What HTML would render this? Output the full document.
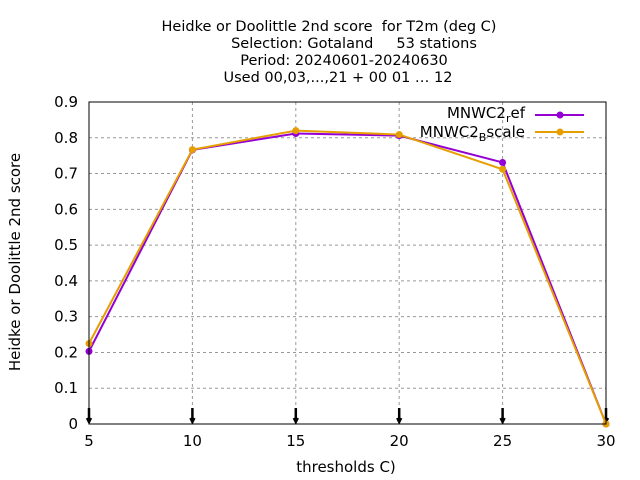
<!DOCTYPE html>
<html><head><meta charset="utf-8"><style>
body{margin:0;background:#fff}
svg{display:block;font-family:"DejaVu Sans","Liberation Sans",sans-serif}
text{white-space:pre}
</style></head><body>
<svg id="c" width="640" height="480" xml:space="preserve">
<g font-size="14.5" text-anchor="middle" fill="#000">
<text x="329" y="31">Heidke or Doolittle 2nd score  for T2m (deg C)</text>
<text x="354" y="48">Selection: Gotaland     53 stations</text>
<text x="344" y="65">Period: 20240601-20240630</text>
<text x="338" y="82">Used 00,03,...,21 + 00 01 … 12</text>
</g>
<text x="20" y="262" font-size="15" text-anchor="middle" transform="rotate(-90 20 262)">Heidke or Doolittle 2nd score</text>
<text x="346" y="472" font-size="15" text-anchor="middle">thresholds C)</text>
<g id="grid"></g><g id="ticks"></g><g id="series"></g>
<rect x="89" y="102" width="517" height="322" fill="none" stroke="#000" stroke-width="1"/>
<g font-size="15">
<text x="525" y="118" text-anchor="end">MNWC2<tspan font-size="11" dy="4">r</tspan><tspan dy="-4">ef</tspan></text>
<line x1="535" y1="115" x2="584" y2="115" stroke="#9400d3" stroke-width="2"/>
<circle cx="560" cy="115" r="3.5" fill="#9400d3"/>
<text x="525" y="137" text-anchor="end">MNWC2<tspan font-size="11" dy="4">B</tspan><tspan dy="-4">scale</tspan></text>
<line x1="535" y1="132" x2="584" y2="132" stroke="#e69f00" stroke-width="2"/>
<circle cx="560" cy="132" r="3.5" fill="#e69f00"/>
</g>
</svg>
<script>
const categories=[5,10,15,20,25,30];
const refValues=[0.203,0.766,0.812,0.806,0.731,0.0];
const bscaleValues=[0.225,0.767,0.820,0.809,0.712,0.0];
const yTicks=[0,0.1,0.2,0.3,0.4,0.5,0.6,0.7,0.8,0.9];
const NS="http://www.w3.org/2000/svg";
const X=v=>89+(v-5)/25*517, Y=v=>424-v/0.9*322;
function mk(t,a,p){const e=document.createElementNS(NS,t);for(const k in a)e.setAttribute(k,a[k]);p.appendChild(e);return e;}
const g=document.getElementById('grid'),tk=document.getElementById('ticks'),s=document.getElementById('series');
yTicks.forEach(v=>{
 if(v>0&&v<0.9){const l=mk('line',{x1:89,x2:606,y1:Y(v),y2:Y(v),stroke:'#999','stroke-dasharray':'3,3'},g);
 
 }
 const t=mk('text',{x:78,y:Y(v)+5,'font-size':15,'text-anchor':'end'},tk);t.textContent=v===0?'0':v.toFixed(1);
 
 
});
categories.forEach(c=>{
 if(c>5&&c<30){const l=mk('line',{x1:X(c),x2:X(c),y1:102,y2:424,stroke:'#999','stroke-dasharray':'3,3'},g);
 
 }
 const t=mk('text',{x:X(c),y:446,'font-size':15,'text-anchor':'middle'},tk);t.textContent=c;
 
 
 const m=mk('path',{d:`M${X(c)} 408V422M${X(c)-2} 418L${X(c)} 422L${X(c)+2} 418`,stroke:'#000','stroke-width':2.5,fill:'none'},tk);
 
 
});
function series(vals,col,name){
 const p=mk('polyline',{points:vals.map((v,i)=>X(categories[i])+','+Y(v)).join(' '),fill:'none',stroke:col,'stroke-width':2},s);
 
 
 vals.forEach((v,i)=>{const c=mk('circle',{cx:X(categories[i]),cy:Y(v),r:3.5,fill:col},s);
 
 });
}
series(refValues,'#9400d3','mnwc2-ref');
series(bscaleValues,'#e69f00','mnwc2-bscale');
</script>
</body></html>
